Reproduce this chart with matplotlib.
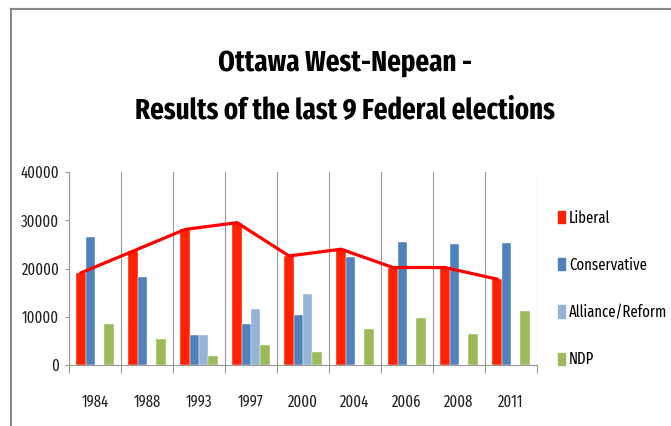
import matplotlib
matplotlib.use("Agg")
import matplotlib.pyplot as plt
from matplotlib import font_manager
from matplotlib.lines import Line2D
import numpy as np

years = ["1984", "1988", "1993", "1997", "2000", "2004", "2006", "2008", "2011"]
liberal = [19100, 23600, 28100, 29500, 22600, 24000, 20200, 20200, 17800]
conservative = [26500, 18300, 6200, 8450, 10450, 22450, 25550, 25000, 25300]
alliance = [0, 0, 6200, 11700, 14700, 0, 0, 0, 0]
ndp = [8450, 5400, 1900, 4200, 2700, 7500, 9700, 6450, 11200]
series_names = ["Liberal", "Conservative", "Alliance/Reform", "NDP"]
y_ticks = [0, 10000, 20000, 30000, 40000]

names = {f.name for f in font_manager.fontManager.ttflist}
prefs = ["Fira Sans Extra Condensed", "Barlow Condensed", "Roboto Condensed",
         "PT Sans Narrow", "Carlito", "DejaVu Sans"]
narrow = next(p for p in prefs if p in names or p == "DejaVu Sans")
plt.rcParams['font.family'] = [narrow, 'DejaVu Sans']

colors = ["#FF2200", "#4F81BD", "#95B3D7", "#9BBB59"]

fig = plt.figure(figsize=(6.71, 4.26), dpi=100)
W, H = 671, 426
ax = fig.add_axes([69 / W, 1 - 365 / H, (537 - 69) / W, (365 - 172) / H])

x = np.arange(len(years))
w = 0.179
data = [liberal, conservative, alliance, ndp]
for i, (vals, c, nm) in enumerate(zip(data, colors, series_names)):
    ax.bar(x + (i - 1.5) * w, vals, width=w, color=c, label=nm,
           edgecolor="white", linewidth=0.3, zorder=3)

ax.plot(x - 1.5 * w, liberal, color="#FF0000", linewidth=2.3, zorder=4)

ax.set_xlim(-0.5, len(years) - 0.5)
ax.set_ylim(0, 40000)
ax.set_yticks(y_ticks)
ax.set_yticklabels([str(v) for v in y_ticks], fontsize=11.5, color="#222222")
ax.set_xticks(x)
ax.set_xticklabels(years, fontsize=11.5, color="#222222")
ax.tick_params(axis="x", which="major", length=0, pad=21)
ax.set_xticks(np.arange(-0.5, len(years) + 0.5, 1.0), minor=True)
ax.tick_params(axis="x", which="minor", length=6, color="#999999", width=0.8)
ax.tick_params(axis="y", length=3, color="#999999", width=0.8, pad=4)
ax.grid(axis="x", which="minor", color="#999999", linewidth=0.8, zorder=0)
for s in ["top", "right"]:
    ax.spines[s].set_visible(False)
for s in ["left", "bottom"]:
    ax.spines[s].set_color("#999999")
    ax.spines[s].set_linewidth(0.8)

handles = [plt.Rectangle((0, 0), 1, 1, color=c) for c in colors]
ax.legend(handles, series_names, loc="upper left", bbox_to_anchor=(558 / W, 1 - 210 / H),
          bbox_transform=fig.transFigure, frameon=False, fontsize=11.5,
          handlelength=0.45, handleheight=0.8, handletextpad=0.25,
          labelspacing=1.95, borderaxespad=0, borderpad=0)

fig.text(345 / W, 1 - 63 / H, "Ottawa West-Nepean -", ha="center", va="center",
         fontsize=21, fontweight="bold")
fig.text(345 / W, 1 - 110 / H, "Results of the last 9 Federal elections", ha="center",
         va="center", fontsize=21, fontweight="bold")

fig.add_artist(Line2D([11 / W, 1], [1 - 8.5 / H, 1 - 8.5 / H], transform=fig.transFigure,
                      color="#888888", linewidth=1.5))
fig.add_artist(Line2D([11 / W, 11 / W], [0, 1 - 8.5 / H], transform=fig.transFigure,
                      color="#888888", linewidth=1.5))

fig.savefig("out.png", dpi=100, facecolor="white")
